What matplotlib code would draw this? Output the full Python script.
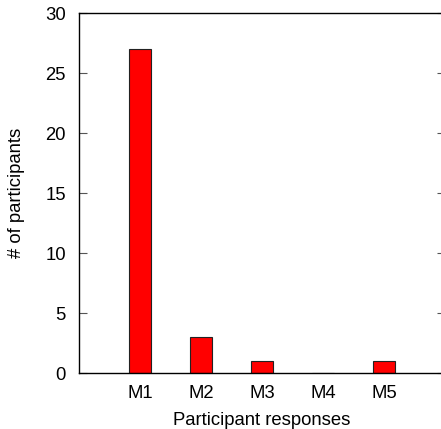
import matplotlib
matplotlib.use('Agg')
import matplotlib.pyplot as plt

categories = ['M1', 'M2', 'M3', 'M4', 'M5']
participants = [27, 3, 1, 0, 1]
y_ticks = [0, 5, 10, 15, 20, 25, 30]

plt.rcParams['font.family'] = ['Liberation Sans', 'DejaVu Sans']
plt.rcParams['font.size'] = 13.3

W, H = 441, 429
fig = plt.figure(figsize=(W / 100, H / 100), dpi=100)
# axes box in pixels: left 79, right 445 (just past the edge), top 13, bottom 373
ax = fig.add_axes([79 / W, (H - 373) / H, 366 / W, 360 / H])

positions = list(range(1, len(categories) + 1))
ax.bar(positions, participants, width=0.35, color='#ff0000',
       edgecolor='#222222', linewidth=0.8, zorder=2)

ax.set_xlim(0, 6)
ax.set_ylim(0, 30)
ax.set_xticks(positions)
ax.set_xticklabels(categories)
ax.set_yticks(y_ticks)

ax.tick_params(axis='x', length=0, pad=9)
ax.tick_params(axis='y', direction='in', length=6, width=0.8, color='#555555',
               right=True, pad=9.4)
for side in ['left', 'right', 'top', 'bottom']:
    ax.spines[side].set_linewidth(1.0)
    ax.spines[side].set_color('black')

ax.set_xlabel('Participant responses', labelpad=7)
ax.set_ylabel('# of participants', labelpad=14.5)

fig.savefig('out.png', dpi=100)
